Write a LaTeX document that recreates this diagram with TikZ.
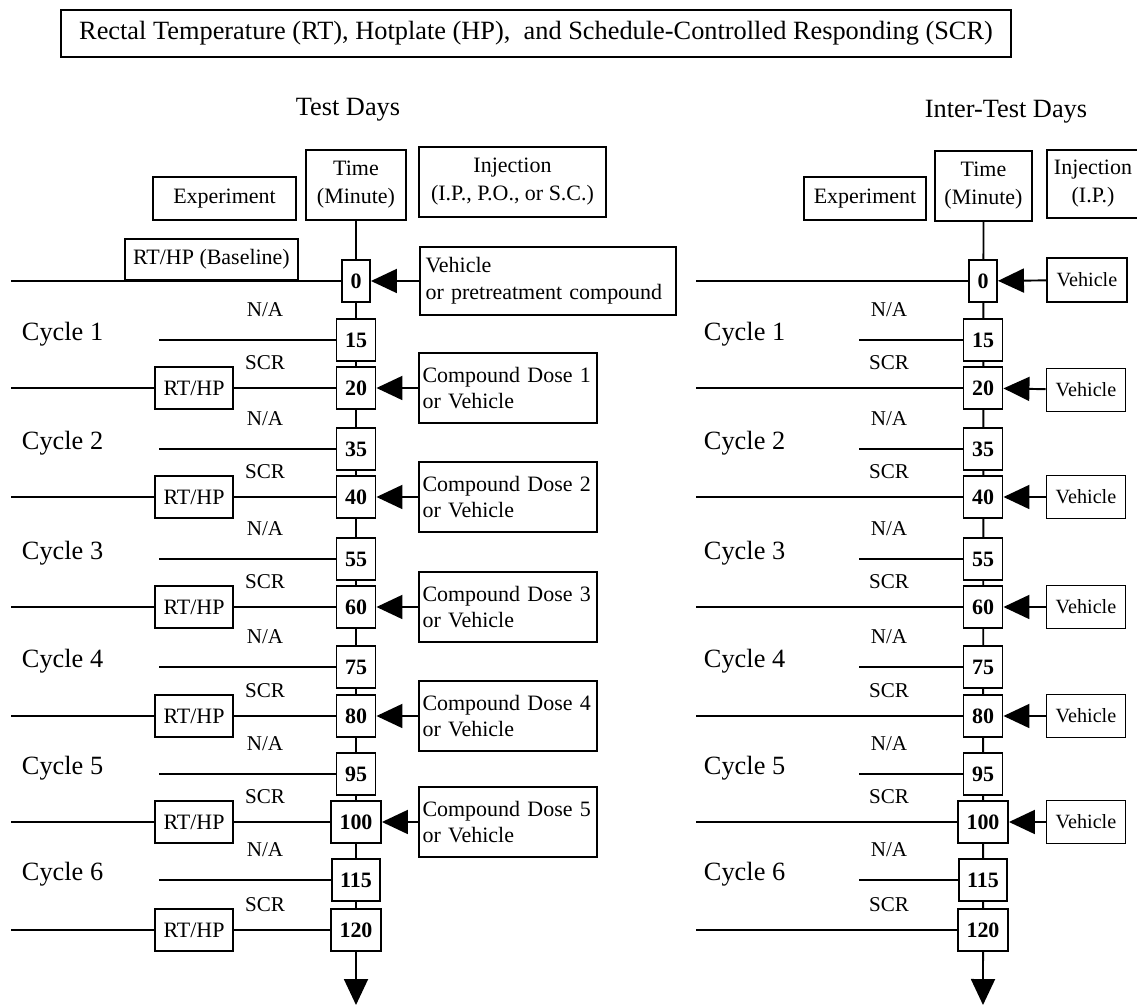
\documentclass[tikz,border=0pt]{standalone}
\usepackage{fontspec}
\setmainfont{Liberation Serif}
\usetikzlibrary{arrows.meta}

\begin{document}
\begin{tikzpicture}[x=0.02cm,y=-0.02cm,line width=1.1pt,
  box/.style={draw,fill=white,inner sep=0pt,font=\fontsize{12.5}{16}\selectfont},
  tbox/.style={draw,fill=white,inner xsep=0.17cm,inner ysep=0pt,minimum height=0.84cm,font=\fontsize{12.5}{15}\selectfont\bfseries},
  lbl/.style={inner sep=0pt,font=\fontsize{12}{14}\selectfont},
  big/.style={inner sep=0pt,font=\fontsize{15}{18}\selectfont},
  tip/.style={-{Triangle[length=0.52cm,width=0.48cm]}}]
  \useasboundingbox (0,0) rectangle (1137,1006);
  \clip (0,0) rectangle (1137,1006);

  \node[box,font=\fontsize{15}{18}\selectfont,minimum width=19cm,minimum height=0.94cm] (title) at (536,33.5)
    {Rectal Temperature (RT), Hotplate (HP),\ \ and Schedule-Controlled Responding (SCR)};
  \node[big] (ltitle) at (348,110) {Test Days};
  \node[big] (rtitle) at (1006,112) {Inter-Test Days};

  % test days
  \node[box,minimum width=2.86cm,minimum height=0.86cm] (Lexp) at (224.5,198.5) {Experiment};
  \node[box,minimum width=2cm,minimum height=1.4cm,align=center] (Ltime) at (356,185) {Time\\(Minute)};
  \node[box,minimum width=3.74cm,minimum height=1.4cm,align=center] (Linj) at (512.5,182) {Injection\\(I.P., P.O., or S.C.)};
  \coordinate (Lend) at (356,1005);
  \draw[tip] (Ltime) -- (Lend);

  \node[tbox] (Lt0) at (356,281) {0};
  \node[box,minimum width=3.46cm,minimum height=0.82cm,anchor=south west] (Lbase) at (124,281) {RT/HP (Baseline)};
  \coordinate (L0far) at (11,281);
  \draw (L0far) -- (Lt0);
  \node[box,text width=4.9cm,inner xsep=0.11cm,minimum height=1.36cm,align=left,font=\fontsize{12.5}{15.4}\selectfont] (Lveh) at (548,281) {Vehicle\\or pretreatment compound};
  \draw[tip] (Lveh) -- (Lt0);

  \foreach \k/\na/\scr/\ya/\yb in {1/15/20/340/388,2/35/40/449/497,3/55/60/559/607,4/75/80/667/716,5/95/100/774/822,6/115/120/880/930}{
    \node[tbox] (Ln\k) at (356,\ya) {\na};
    \node[tbox] (Ls\k) at (356,\yb) {\scr};
    \node[big,anchor=west] (Lcyc\k) at (21,\ya-6) {Cycle \k};
    \node[lbl] (Lna\k) at (265,\ya-30) {N/A};
    \node[lbl] (Lscr\k) at (265,\yb-25) {SCR};
    \node[box,minimum width=1.56cm,minimum height=0.84cm] (Lrt\k) at (194,\yb) {RT/HP};
    \coordinate (Lnastart\k) at (159,\ya);
    \coordinate (Lfar\k) at (11,\yb);
    \draw (Lnastart\k) -- (Ln\k);
    \draw (Lfar\k) -- (Lrt\k) -- (Ls\k);
  }
  \foreach \k/\yb in {1/388,2/497,3/607,4/716,5/822}{
    \node[box,text width=3.42cm,inner xsep=0.07cm,minimum height=1.4cm,align=left,font=\fontsize{12.5}{14.4}\selectfont] (Ldose\k) at (508,\yb) {Compound Dose \k\\or Vehicle};
    \draw[tip] (Ldose\k) -- (Ls\k);
  }

  % inter-test days
  \node[box,minimum width=2.44cm,minimum height=0.86cm] (Rexp) at (865,198.5) {Experiment};
  \node[box,minimum width=1.94cm,minimum height=1.4cm,align=center] (Rtime) at (983.5,186) {Time\\(Minute)};
  \node[box,minimum width=1.84cm,minimum height=1.36cm,align=center] (Rinj) at (1093,184) {Injection\\(I.P.)};
  \coordinate (Rend) at (983,1005);
  \draw[tip] (Rtime) -- (Rend);

  \node[tbox] (Rt0) at (983,281) {0};
  \coordinate (R0far) at (696,281);
  \draw (R0far) -- (Rt0);
  \node[box,font=\fontsize{11.5}{14}\selectfont,minimum width=1.6cm,minimum height=0.88cm] (Rveh0) at (1087,280) {Vehicle};
  \draw[tip] (Rveh0) -- (Rt0);

  \foreach \k/\na/\scr/\ya/\yb in {1/15/20/340/388,2/35/40/449/497,3/55/60/559/607,4/75/80/667/716,5/95/100/774/822,6/115/120/880/930}{
    \node[tbox] (Rn\k) at (983,\ya) {\na};
    \node[tbox] (Rs\k) at (983,\yb) {\scr};
    \node[big,anchor=west] (Rcyc\k) at (703,\ya-6) {Cycle \k};
    \node[lbl] (Rna\k) at (889,\ya-30) {N/A};
    \node[lbl] (Rscr\k) at (889,\yb-25) {SCR};
    \coordinate (Rnastart\k) at (859,\ya);
    \coordinate (Rfar\k) at (696,\yb);
    \draw (Rnastart\k) -- (Rn\k);
    \draw (Rfar\k) -- (Rs\k);
  }
  \foreach \k/\yb in {1/390,2/497,3/607,4/716,5/822}{
    \node[box,font=\fontsize{11.5}{14}\selectfont,minimum width=1.58cm,minimum height=0.86cm] (Rveh\k) at (1086,\yb) {Vehicle};
    \draw[tip] (Rveh\k) -- (Rs\k);
  }
\end{tikzpicture}
\end{document}
